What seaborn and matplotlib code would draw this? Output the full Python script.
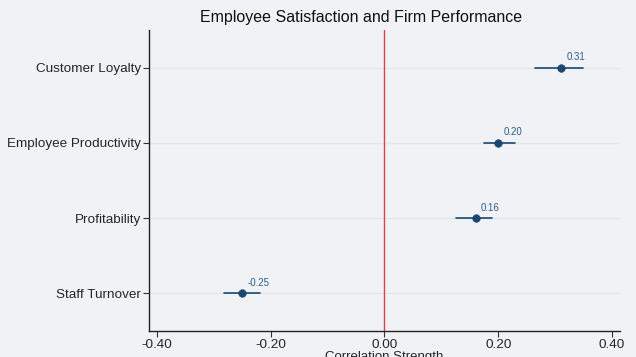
import numpy as np
import pandas as pd
import seaborn as sns
import matplotlib.pyplot as plt

categories = ['Customer Loyalty', 'Employee Productivity', 'Profitability', 'Staff Turnover']
estimates = [0.31, 0.20, 0.16, -0.25]
ci_low = [0.265, 0.175, 0.126, -0.282]
ci_high = [0.349, 0.230, 0.189, -0.219]
xticks = [-0.40, -0.20, 0.00, 0.20, 0.40]

df = pd.DataFrame({'outcome': categories, 'r': estimates, 'lo': ci_low, 'hi': ci_high})

sns.set_style("white")
plt.rcParams['font.family'] = ['Liberation Sans', 'DejaVu Sans']

bg = '#f0f2f5'
navy = '#1a476f'

fig = plt.figure(figsize=(6.36, 3.57), dpi=100, facecolor=bg)
ax = fig.add_axes([0.2343, 0.0728, 0.7405, 0.843])
ax.set_facecolor(bg)

for i, row in df.iterrows():
    ax.axhline(i, color='#e1e8ea', lw=1, zorder=0)
    ax.plot([row.lo, row.hi], [i, i], color=navy, lw=1.2, zorder=2)
    ax.annotate(f'{row.r:.2f}', (row.r, i), xytext=(4, 4), textcoords='offset points',
                fontsize=7, color='#2d5f8a', ha='left', va='bottom')

sns.scatterplot(data=df, x='r', y='outcome', ax=ax, color=navy, s=30, edgecolor=navy, zorder=3)

ax.axvline(0, color='#d9444f', lw=1, zorder=1)

ax.set_xlim(-0.414, 0.414)
ax.set_ylim(len(categories) - 0.5, -0.5)
ax.set_xticks(xticks)
ax.set_xticklabels([f'{t:.2f}' for t in xticks], fontsize=9.7)
ax.tick_params(axis='y', labelsize=9.7, length=4, color='#333333', pad=2)
ax.tick_params(axis='x', length=4, color='#333333', pad=2)
ax.tick_params(left=True, bottom=True)
ax.set_ylabel('')
ax.set_xlabel('Correlation Strength', fontsize=9.5, labelpad=0)
fig.text(0.567, 0.952, 'Employee Satisfaction and Firm Performance', fontsize=11.5,
         ha='center', va='center', color='#111111')

for s in ['top', 'right']:
    ax.spines[s].set_visible(False)
for s in ['left', 'bottom']:
    ax.spines[s].set_color('#222222')
    ax.spines[s].set_linewidth(1)

fig.savefig('out.png', dpi=100, facecolor=bg)
